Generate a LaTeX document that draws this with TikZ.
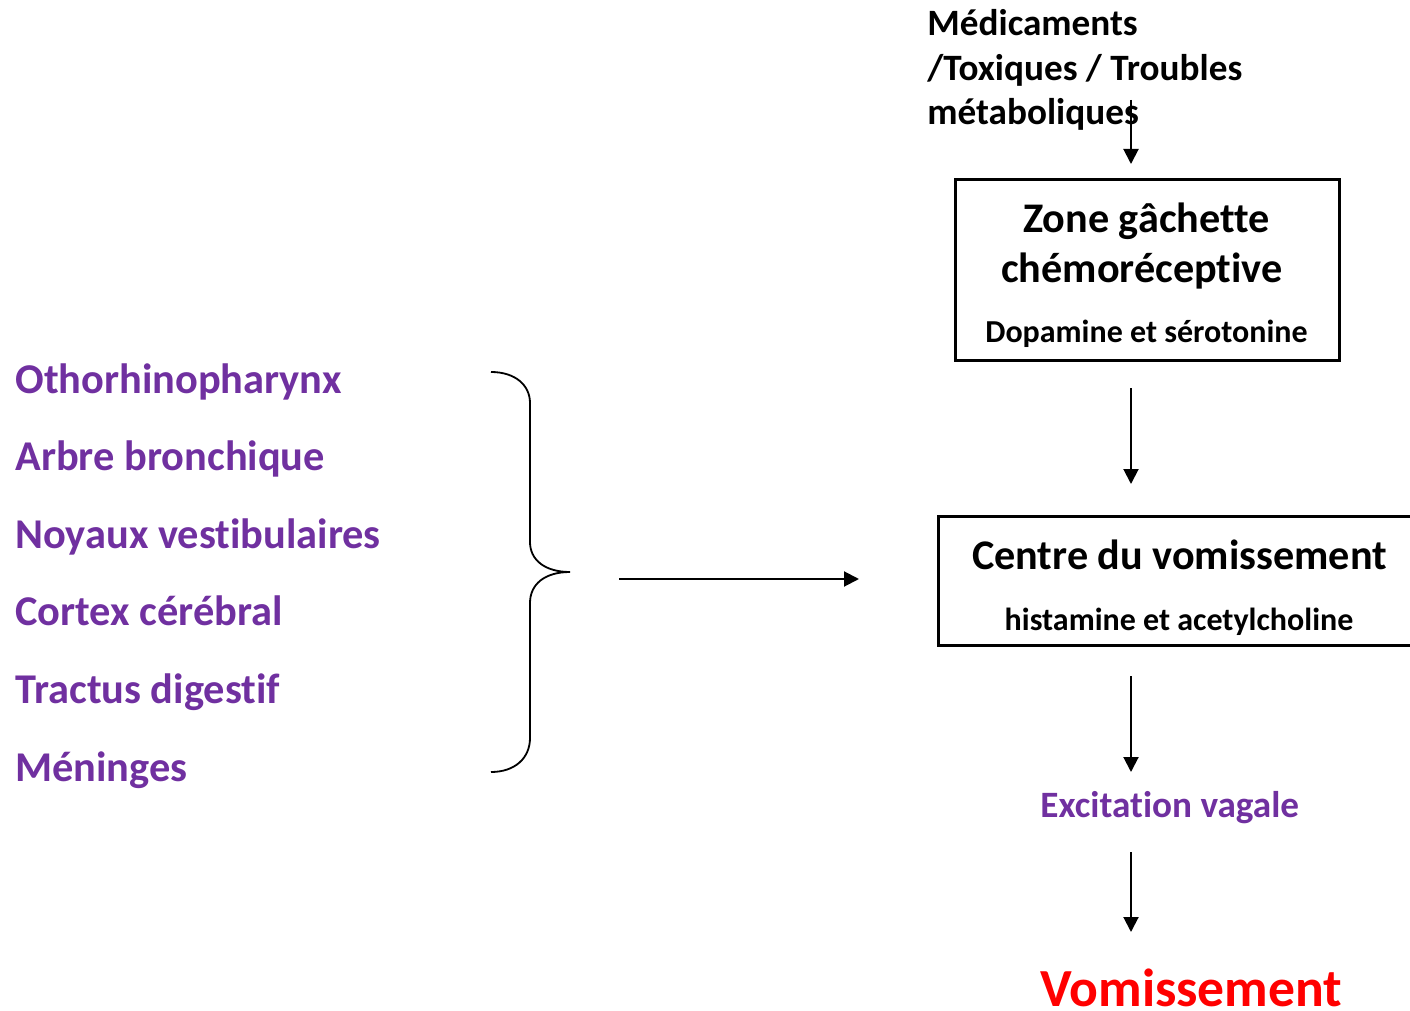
\documentclass[tikz,border=0pt]{standalone}
\usepackage{fontspec}
\setmainfont[Ligatures={NoCommon}]{Carlito}
\usetikzlibrary{arrows.meta}
\definecolor{violetw}{HTML}{7030A0}
\begin{document}
\begin{tikzpicture}[x=0.5pt,y=-0.5pt,
  txt/.style={inner sep=0pt,font=\bfseries},
  lst/.style={txt,anchor=base west,text=violetw,font=\bfseries\fontsize{21.2}{25}\selectfont},
  top/.style={txt,anchor=base west,font=\bfseries\fontsize{18.6}{22}\selectfont},
  head/.style={txt,anchor=base,font=\bfseries\fontsize{21.1}{25}\selectfont},
  sub/.style={txt,anchor=base,font=\bfseries\fontsize{16}{19}\selectfont},
  boxx/.style={draw,line width=1.5pt,inner sep=0pt},
  arr/.style={line width=1pt,-{Triangle[width=7.5pt,length=7.5pt]}}]
\useasboundingbox (0,0) rectangle (1410,1011);
\clip (0,0) rectangle (1410,1011);
% top text
\node[top] (m1) at (927,36) {Médicaments};
\node[top] (m2) at (927,81) {/Toxiques / Troubles};
\node[top] (m3) at (927,125) {métaboliques};
% box 1
\node[boxx,minimum width=192pt,minimum height=90pt] (b1) at (1147,270) {};
\node[head] (z1) at (1146.5,233) {Zone gâchette};
\node[head] (z2) at (1142,283) {chémoréceptive};
\node[sub] (z3) at (1146.5,343) {Dopamine et sérotonine};
% box 2
\node[boxx,minimum width=243pt,minimum height=64.5pt] (b2) at (1181,580.5) {};
\node[head] (c1) at (1179.5,569) {Centre du vomissement};
\node[sub] (c2) at (1179,630) {histamine et acetylcholine};
% lower texts
\node[txt,anchor=base west,text=violetw,font=\bfseries\fontsize{18.6}{22}\selectfont] (ev) at (1040,817) {Excitation vagale};
\node[txt,anchor=base west,text=red,font=\bfseries\fontsize{26.8}{30}\selectfont] (vo) at (1040,1006) {Vomissement};
% left list
\node[lst] (l1) at (15,393) {Othorhinopharynx};
\node[lst] (l2) at (15,470) {Arbre bronchique};
\node[lst] (l3) at (15,548) {Noyaux vestibulaires};
\node[lst] (l4) at (15,625) {Cortex cérébral};
\node[lst] (l5) at (15,703) {Tractus digestif};
\node[lst] (l6) at (15,781) {Méninges};
% brace
\draw[line width=0.9pt] (491,372) .. controls (515,372) and (530,385) .. (530,403)
  -- (530,542) .. controls (530,560) and (545,572) .. (570,572)
  .. controls (545,572) and (530,584) .. (530,603)
  -- (530,738) .. controls (530,758) and (515,772) .. (491,772);
% coordinates for arrows
\coordinate (a0) at (1131,100);
\coordinate (a1) at (1131,164);
\coordinate (a2) at (1131,388);
\coordinate (a3) at (1131,484);
\coordinate (a4) at (1131,676);
\coordinate (a5) at (1131,772);
\coordinate (a6) at (1131,852);
\coordinate (a7) at (1131,932);
\coordinate (h0) at (619,579);
\coordinate (h1) at (859,579);
\draw[arr] (a0) -- (a1);
\draw[arr] (a2) -- (a3);
\draw[arr] (a4) -- (a5);
\draw[arr] (a6) -- (a7);
\draw[arr] (h0) -- (h1);
\end{tikzpicture}
\end{document}
